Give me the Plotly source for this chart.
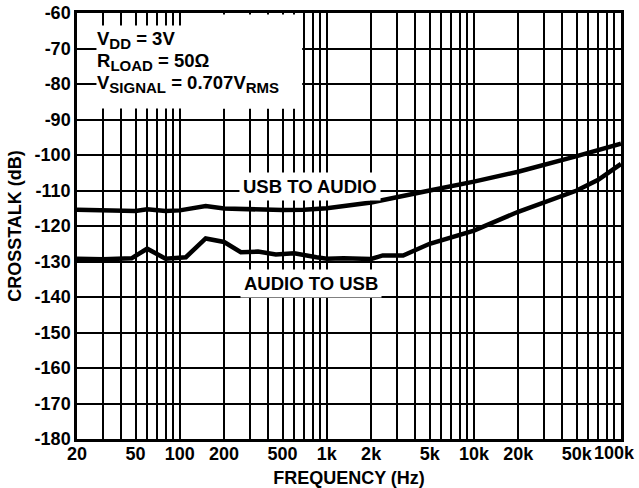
import plotly.graph_objects as go
import numpy as np

# ---- data ----
usb_to_audio_f = [20, 30, 50, 60, 80, 100, 150, 200, 300, 500, 700, 1000, 2000, 3000, 5000,
                  10000, 20000, 50000, 100000]
usb_to_audio_db = [-115.4, -115.5, -115.8, -115.3, -115.8, -115.6, -114.4, -115.1, -115.4, -115.5,
                   -115.4, -115.0, -113.4, -111.8, -110.0, -107.5, -104.7, -100.3, -96.8]

audio_to_usb_f = [20, 30, 47, 60, 80, 110, 150, 200, 260, 340, 450, 600, 850, 1000, 1300, 2000,
                  2400, 3300, 5000, 10000, 20000, 50000, 70000, 100000]
audio_to_usb_db = [-129.2, -129.4, -129.1, -126.4, -129.2, -128.8, -123.5, -124.5, -127.4, -127.2,
                   -128.0, -127.7, -128.8, -129.2, -129.1, -129.3, -128.3, -128.3, -125.0, -121.3,
                   -116.0, -110.0, -107.0, -102.5]

x_grid = [20, 30, 40, 50, 60, 70, 80, 90,
          100, 200, 300, 400, 500, 600, 700, 800, 900,
          1000, 2000, 3000, 4000, 5000, 6000, 7000, 8000, 9000,
          10000, 20000, 30000, 40000, 50000, 60000, 70000, 80000, 90000, 100000]
x_labels = {20: "20", 50: "50", 100: "100", 200: "200", 500: "500", 1000: "1k", 2000: "2k",
            5000: "5k", 10000: "10k", 20000: "20k", 50000: "50k"}
last_label = "100k"   # drawn right-aligned so it stays inside the page
y_ticks = list(range(-60, -190, -10))

W, H = 639, 488
L, R, T, B = 76.5, 621.5, 12.5, 439.0
FONT = "Liberation Sans, Arial, Helvetica, sans-serif"
FS = 18
FA = 18.5

def px(xp):
    return (xp - L) / (R - L)

def py(yp):
    return 1 - (yp - T) / (B - T)

fig = go.Figure()
fig.add_trace(go.Scatter(x=usb_to_audio_f, y=usb_to_audio_db, mode="lines",
                         line=dict(color="black", width=4.5), name="USB TO AUDIO"))
fig.add_trace(go.Scatter(x=audio_to_usb_f, y=audio_to_usb_db, mode="lines",
                         line=dict(color="black", width=4.5), name="AUDIO TO USB"))

fig.update_layout(
    width=W, height=H,
    margin=dict(l=L, r=W - R, t=T, b=H - B, pad=0, autoexpand=False),
    paper_bgcolor="white", plot_bgcolor="white",
    showlegend=False,
    font=dict(family=FONT, size=FS, color="black", weight="bold"),
    xaxis=dict(
        type="log", range=[np.log10(20), np.log10(100000)],
        tickmode="array", tickvals=x_grid,
        ticktext=[x_labels.get(v, "") for v in x_grid],
        ticklabeloverflow="allow", automargin=False, ticklabelstandoff=-3,
        showgrid=True, gridcolor="black", gridwidth=2,
        showline=True, linecolor="black", linewidth=2.5, mirror=True,
        ticks="", ticklen=0, zeroline=False,
        tickfont=dict(family=FONT, size=FS, weight="bold"),
        title=dict(text="FREQUENCY (Hz)", standoff=9,
                   font=dict(family=FONT, size=FS, weight="bold")),
    ),
    yaxis=dict(
        range=[-180, -60],
        tickmode="array", tickvals=y_ticks, ticktext=[str(v) for v in y_ticks],
        automargin=False,
        showgrid=True, gridcolor="black", gridwidth=2,
        showline=True, linecolor="black", linewidth=2.5, mirror=True,
        ticks="", ticklen=0, zeroline=False,
        tickfont=dict(family=FONT, size=FS, weight="bold"),
        title=dict(text="CROSSTALK (dB)", standoff=9,
                   font=dict(family=FONT, size=FS, weight="bold")),
    ),
)

# last x tick label, right-aligned to the page edge
fig.add_annotation(xref="paper", yref="paper", x=px(W - 1), y=py(B + 2), xanchor="right",
                   yanchor="top", showarrow=False, text=last_label,
                   font=dict(family=FONT, size=FS, weight="bold"))

# white masks behind the condition text
fig.add_shape(type="rect", xref="paper", yref="paper",
              x0=px(96), x1=px(302), y0=py(108), y1=py(25),
              fillcolor="white", line=dict(width=0), layer="above")
fig.add_shape(type="rect", xref="paper", yref="paper",
              x0=px(181), x1=px(302), y0=py(108), y1=py(14),
              fillcolor="white", line=dict(width=0), layer="above")

SUB = '<sub><span style="font-size:15px">{}</span></sub>'
cond_lines = ["V" + SUB.format("DD") + " = 3V",
              "R" + SUB.format("LOAD") + " = 50Ω",
              "V" + SUB.format("SIGNAL") + " = 0.707V" + SUB.format("RMS")]
cond_y = [40, 62, 84]
for txt, yc in zip(cond_lines, cond_y):
    fig.add_annotation(xref="paper", yref="paper", x=px(95), y=py(yc), xanchor="left",
                       yanchor="middle", align="left", showarrow=False, text=txt,
                       font=dict(family=FONT, size=FA, weight="bold"))

fig.add_annotation(xref="paper", yref="paper", x=px(310), y=py(186), showarrow=False,
                   text="USB TO AUDIO", bgcolor="white", borderpad=3,
                   font=dict(family=FONT, size=FA, weight="bold"))
fig.add_annotation(xref="paper", yref="paper", x=px(311), y=py(283), showarrow=False,
                   text="AUDIO TO USB", bgcolor="white", borderpad=3,
                   font=dict(family=FONT, size=FA, weight="bold"))

fig.write_html("out.html")
